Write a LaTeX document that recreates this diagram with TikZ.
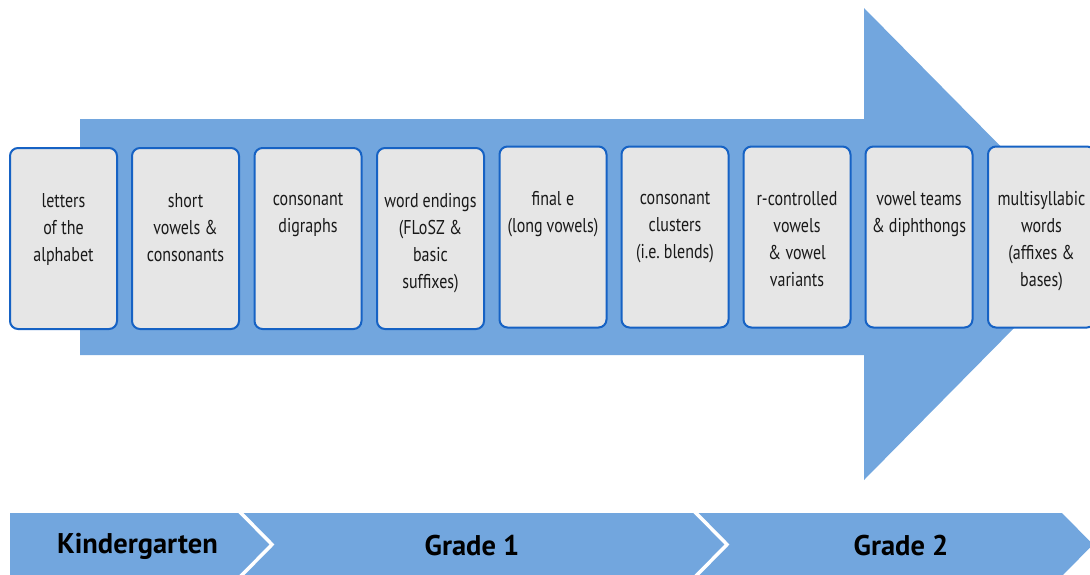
\documentclass[tikz,border=0pt]{standalone}
\usepackage{fontspec}
\setmainfont{PT Sans}
\newfontfamily\condfont[FakeStretch=0.8]{PT Sans}
\newcommand{\tightsp}{\spaceskip=3.8pt plus 1pt minus 1pt\relax\xspaceskip=3.8pt plus 1pt minus 1pt\relax}
\definecolor{bandblue}{RGB}{114,166,222}
\definecolor{boxblue}{RGB}{22,98,196}
\definecolor{boxgray}{RGB}{230,230,230}
\tikzset{
  stagebox/.style={draw=boxblue, fill=boxgray, line width=2pt, rounded corners=8pt,
    minimum width=107pt, minimum height=181pt, inner sep=0pt},
  stagetext/.style={anchor=north, inner sep=0pt, align=center, text width=104pt,
    font=\condfont\fontsize{20}{27}\selectfont, text=black!90},
  gradelabel/.style={inner sep=0pt, font=\bfseries\fontsize{28.5}{30}\selectfont, text=black},
  chevron/.style={draw=white, line width=3.5pt}
}
\begin{document}
\begin{tikzpicture}[x=1pt,y=-1pt]
\useasboundingbox (0,0) rectangle (1090,574);
\clip (0,0) rectangle (1090,574);
% big arrow
\fill[bandblue] (80,119) -- (864,119) -- (864,8) -- (1097,244) -- (864,480) -- (864,355) -- (80,355) -- cycle;
% stage boxes
\foreach \n/\x/\y/\t in {
  1/63.5/238.5/{letters\\of the\\alphabet},
  2/185.5/238.5/{short\\vowels \&\\consonants},
  3/308/238.5/{consonant\\digraphs},
  4/430.5/238.5/{word endings\\(FLoSZ \&\\basic\\suffixes)},
  5/553/237/{final e\\(long vowels)},
  6/675/237/{consonant\\clusters\\(i.e. blends)},
  7/797/237/{r-controlled\\vowels\\\& vowel\\variants},
  8/919/237/{vowel teams\\\& diphthongs},
  9/1041.5/237/{multisyllabic\\words\\(affixes \&\\bases)}}{
  \node[stagebox] (b\n) at (\x,\y) {};
  \node[stagetext] (t\n) at ([yshift=-46pt]b\n.north) {\tightsp\t};
}
% grade band
\fill[bandblue] (10,513) -- (1062,513) -- (1093,544.5) -- (1062,576) -- (10,576) -- cycle;
\draw[chevron] (238,510) -- (272,544.5) -- (238,579);
\draw[chevron] (693,510) -- (727,544.5) -- (693,579);
\node[gradelabel] (kg) at (137.5,546) {Kindergarten};
\node[gradelabel] (g1) at (472,546) {Grade 1};
\node[gradelabel] (g2) at (901,546) {Grade 2};
\end{tikzpicture}
\end{document}
